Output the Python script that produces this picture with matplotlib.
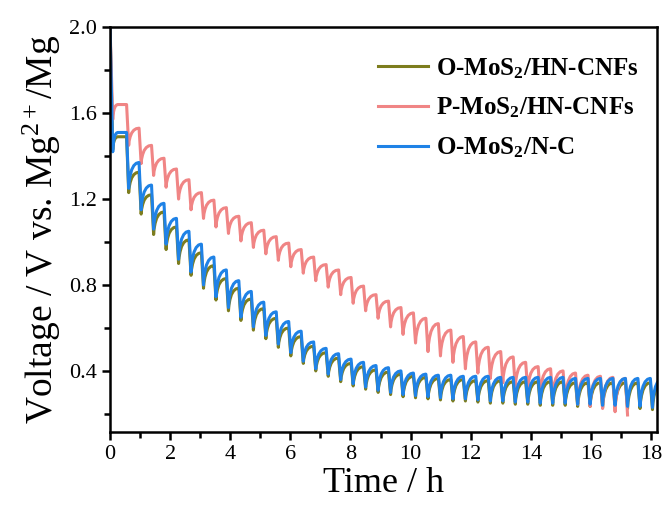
import numpy as np
import matplotlib.pyplot as plt
from matplotlib.ticker import MultipleLocator

plt.rcParams['font.family'] = ['Liberation Serif', 'DejaVu Serif']
plt.rcParams['mathtext.fontset'] = 'custom'
plt.rcParams['mathtext.rm'] = 'Liberation Serif'
plt.rcParams['mathtext.it'] = 'Liberation Serif:italic'
plt.rcParams['mathtext.bf'] = 'Liberation Serif:bold'

# GITT discharge: relaxed voltage before each pulse and voltage at end of each pulse (V)
t_first = 0.55      # h, first titration pulse after initial rest
period = 0.415      # h, pulse + rest
t_pulse = 0.07      # h

olive_start_dip = 1.43
olive_peak = [1.49, 1.325, 1.22, 1.14, 1.07, 1.01, 0.95, 0.89, 0.83, 0.785, 0.735, 0.69,
              0.645, 0.60, 0.56, 0.515, 0.485, 0.46, 0.435, 0.42, 0.405, 0.395, 0.385, 0.375,
              0.37, 0.365, 0.36, 0.36, 0.355, 0.355, 0.355, 0.35, 0.35, 0.35, 0.35, 0.35,
              0.345, 0.345, 0.345, 0.345, 0.345, 0.345, 0.345, 0.345]
olive_dip = [1.23, 1.13, 1.035, 0.965, 0.90, 0.845, 0.785, 0.73, 0.68, 0.635, 0.59, 0.55,
             0.51, 0.47, 0.435, 0.40, 0.375, 0.35, 0.33, 0.315, 0.30, 0.29, 0.28, 0.275,
             0.27, 0.265, 0.26, 0.26, 0.255, 0.25, 0.25, 0.245, 0.245, 0.24, 0.24, 0.24,
             0.235, 0.235, 0.23, 0.23, 0.225, 0.225, 0.22]

pink_start_dip = 1.57
pink_peak = [1.64, 1.53, 1.45, 1.39, 1.34, 1.29, 1.23, 1.195, 1.16, 1.12, 1.09, 1.055,
             1.025, 0.995, 0.965, 0.93, 0.895, 0.87, 0.835, 0.795, 0.755, 0.725, 0.695, 0.67,
             0.645, 0.62, 0.59, 0.56, 0.535, 0.51, 0.49, 0.465, 0.44, 0.42, 0.41, 0.40,
             0.39, 0.38, 0.375, 0.37, 0.365]
pink_dip = [1.45, 1.365, 1.31, 1.255, 1.20, 1.15, 1.11, 1.07, 1.04, 1.005, 0.975, 0.945,
            0.915, 0.885, 0.855, 0.82, 0.79, 0.755, 0.715, 0.68, 0.645, 0.605, 0.57, 0.53,
            0.49, 0.47, 0.44, 0.41, 0.39, 0.365, 0.345, 0.325, 0.31, 0.29, 0.275, 0.26,
            0.245, 0.235, 0.225, 0.21, 0.195]

blue_start_dip = 1.42
blue_peak = [1.51, 1.37, 1.265, 1.18, 1.11, 1.05, 0.99, 0.93, 0.87, 0.82, 0.77, 0.72,
             0.675, 0.63, 0.585, 0.535, 0.505, 0.48, 0.455, 0.44, 0.425, 0.415, 0.40, 0.39,
             0.385, 0.38, 0.38, 0.375, 0.375, 0.375, 0.37, 0.37, 0.37, 0.37, 0.37, 0.37,
             0.365, 0.365, 0.365, 0.365, 0.365, 0.365, 0.365, 0.365]
blue_dip = [1.25, 1.15, 1.06, 0.99, 0.92, 0.86, 0.80, 0.745, 0.695, 0.65, 0.605, 0.565,
            0.525, 0.485, 0.445, 0.41, 0.385, 0.36, 0.34, 0.325, 0.31, 0.30, 0.29, 0.285,
            0.28, 0.275, 0.27, 0.27, 0.265, 0.26, 0.26, 0.255, 0.255, 0.25, 0.25, 0.25,
            0.245, 0.245, 0.24, 0.24, 0.235, 0.235, 0.23]

labels = [r'O-MoS$_\mathbf{2}$/HN-CNFs', r'P-MoS$_\mathbf{2}$/HN-CNFs', r'O-MoS$_\mathbf{2}$/N-C']
colors = ['#7d7d1e', '#f08585', '#1f82e6']

# relaxation shape after the current is switched off
rest_dt = [0.0, 0.015, 0.05, 0.1, 0.17, 0.25, 0.33]
rest_frac = [0.0, 0.25, 0.5, 0.72, 0.88, 0.97, 1.0]


def gitt_trace(start_dip, peaks, dips):
    t = [0.0, 0.09]
    v = [2.0, start_dip]
    for dt, f in zip(rest_dt[1:], rest_frac[1:]):
        t.append(0.09 + dt * 0.5)
        v.append(start_dip + f * (peaks[0] - start_dip))
    for k, d in enumerate(dips):
        tk = t_first + k * period
        t += [tk, tk + t_pulse]
        v += [peaks[k], d]
        if k + 1 < len(peaks):
            for dt, f in zip(rest_dt[1:], rest_frac[1:]):
                t.append(tk + t_pulse + dt)
                v.append(d + f * (peaks[k + 1] - d))
    return np.array(t), np.array(v)


fig = plt.figure(figsize=(6.67, 5.13), dpi=100)
ax = fig.add_axes([0.165, 0.158, 0.82, 0.789])

series = [(olive_start_dip, olive_peak, olive_dip),
          (pink_start_dip, pink_peak, pink_dip),
          (blue_start_dip, blue_peak, blue_dip)]
for (s, p, d), lab, c in zip(series, labels, colors):
    t, v = gitt_trace(s, p, d)
    ax.plot(t, v, color=c, lw=2.2, label=lab)

ax.set_xlim(0, 18.2)
ax.set_ylim(0.116, 2.0)
ax.xaxis.set_major_locator(MultipleLocator(2))
ax.xaxis.set_minor_locator(MultipleLocator(1))
ax.yaxis.set_minor_locator(MultipleLocator(0.2))
ax.yaxis.set_major_formatter(plt.FormatStrFormatter('%.1f'))
ax.set_yticks([0.4, 0.8, 1.2, 1.6, 2.0])

for sp in ax.spines.values():
    sp.set_linewidth(1.8)
ax.tick_params(which='major', direction='out', length=6, width=1.8, labelsize=16,
               top=False, right=False)
ax.tick_params(which='minor', direction='out', length=4, width=1.8, top=False, right=False)

ax.set_xlabel('Time / h', fontsize=26, labelpad=2)
ax.set_ylabel(r'Voltage / V vs. Mg$^{2+}$/Mg', fontsize=27, labelpad=4)

ax.legend(loc='upper right', bbox_to_anchor=(1.0, 0.975), frameon=False,
          prop={'weight': 'bold', 'size': 18},
          handlelength=2.0, handletextpad=0.3, labelspacing=0.6,
          borderaxespad=0.35)

fig.savefig('out.png', dpi=100)
